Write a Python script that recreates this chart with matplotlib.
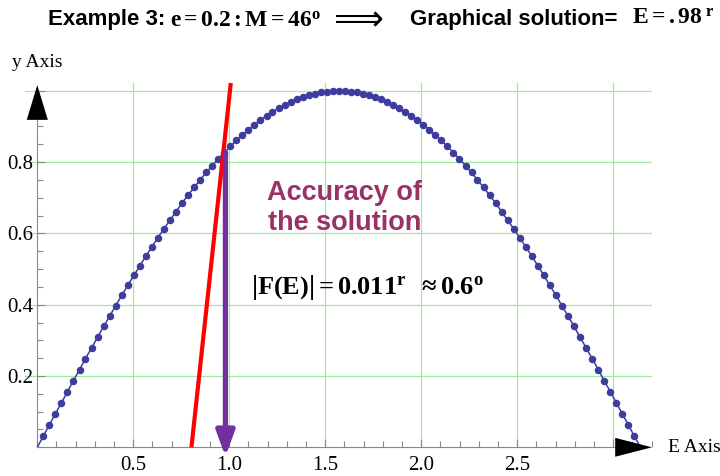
import matplotlib
matplotlib.use("Agg")
import matplotlib.pyplot as plt
from matplotlib.ticker import MultipleLocator, FixedLocator

# curve points E, sin(E)  (dots at every point except the two ends)
E_vals = [0.000, 0.031, 0.063, 0.094, 0.126, 0.157, 0.188, 0.220, 0.251, 0.283,
          0.314, 0.346, 0.377, 0.408, 0.440, 0.471, 0.503, 0.534, 0.565, 0.597,
          0.628, 0.660, 0.691, 0.723, 0.754, 0.785, 0.817, 0.848, 0.880, 0.911,
          0.942, 0.974, 1.005, 1.037, 1.068, 1.100, 1.131, 1.162, 1.194, 1.225,
          1.257, 1.288, 1.319, 1.351, 1.382, 1.414, 1.445, 1.477, 1.508, 1.539,
          1.571, 1.602, 1.634, 1.665, 1.696, 1.728, 1.759, 1.791, 1.822, 1.854,
          1.885, 1.916, 1.948, 1.979, 2.011, 2.042, 2.073, 2.105, 2.136, 2.168,
          2.199, 2.231, 2.262, 2.293, 2.325, 2.356, 2.388, 2.419, 2.450, 2.482,
          2.513, 2.545, 2.576, 2.608, 2.639, 2.670, 2.702, 2.733, 2.765, 2.796,
          2.827, 2.859, 2.890, 2.922, 2.953, 2.985, 3.016, 3.047, 3.079, 3.110,
          3.142]
sinE = [0.000, 0.031, 0.063, 0.094, 0.125, 0.156, 0.187, 0.218, 0.249, 0.279,
        0.309, 0.339, 0.368, 0.397, 0.426, 0.454, 0.482, 0.509, 0.536, 0.562,
        0.588, 0.613, 0.637, 0.661, 0.685, 0.707, 0.729, 0.750, 0.771, 0.790,
        0.809, 0.827, 0.844, 0.861, 0.876, 0.891, 0.905, 0.918, 0.930, 0.941,
        0.951, 0.960, 0.969, 0.976, 0.982, 0.988, 0.992, 0.996, 0.998, 0.999,
        1.000, 0.999, 0.998, 0.996, 0.992, 0.988, 0.982, 0.976, 0.969, 0.960,
        0.951, 0.941, 0.930, 0.918, 0.905, 0.891, 0.876, 0.861, 0.844, 0.827,
        0.809, 0.790, 0.771, 0.750, 0.729, 0.707, 0.685, 0.661, 0.637, 0.613,
        0.588, 0.562, 0.536, 0.509, 0.482, 0.454, 0.426, 0.397, 0.368, 0.339,
        0.309, 0.279, 0.249, 0.218, 0.187, 0.156, 0.125, 0.094, 0.063, 0.031,
        0.000]

# red line  y = (E - M)/e
red_E = [0.803, 1.008]
red_y = [0.0, 1.022]

# graphical solution
sol_E = 0.98
sol_y = 0.828

x_major = [0.5, 1.0, 1.5, 2.0, 2.5, 3.0]
x_labels = ["0.5", "1.0", "1.5", "2.0", "2.5", ""]
y_major = [0.2, 0.4, 0.6, 0.8, 1.0]
y_labels = ["0.2", "0.4", "0.6", "0.8", ""]

plt.rcParams["mathtext.fontset"] = "custom"
plt.rcParams["mathtext.rm"] = "Liberation Serif"
plt.rcParams["mathtext.bf"] = "Liberation Serif:bold"
plt.rcParams["mathtext.it"] = "Liberation Serif:italic"

fig = plt.figure(figsize=(7.2, 4.76), dpi=100)
ax = fig.add_axes([25/720, 28.7/476, 627/720, 364.3/476])
ax.set_xlim(-0.064, 3.202)
ax.set_ylim(0, 1.022)

gridc = "#9BEE9B"
ax.xaxis.set_major_locator(FixedLocator(x_major))
ax.yaxis.set_major_locator(FixedLocator(y_major))
ax.xaxis.set_minor_locator(MultipleLocator(0.1))
ax.yaxis.set_minor_locator(MultipleLocator(0.05))
ax.set_xticklabels(x_labels)
ax.set_yticklabels(y_labels)
ax.grid(True, which="major", color=gridc, lw=0.9)
ax.set_axisbelow(True)

for s in ["top", "right"]:
    ax.spines[s].set_visible(False)
ax.spines["left"].set_position(("data", 0))
ax.spines["left"].set_bounds(0, 0.92)
ax.spines["bottom"].set_bounds(0, 3.01)
for s in ["left", "bottom"]:
    ax.spines[s].set_color("#888888")
    ax.spines[s].set_linewidth(0.8)

ax.tick_params(which="both", direction="in", color="#888888", width=0.8)
ax.tick_params(which="major", length=6)
ax.tick_params(which="minor", length=4)
ax.tick_params(axis="x", pad=6)
ax.tick_params(axis="y", pad=3)
for lab in ax.get_xticklabels() + ax.get_yticklabels():
    lab.set_fontfamily("Liberation Serif")
    lab.set_fontsize(15)

# sin curve with dots
ax.plot(E_vals, sinE, color="#3D3D9E", lw=1.1, marker="o", ms=4.4,
        markevery=slice(1, len(E_vals) - 1), zorder=3)

# straight line
ax.plot(red_E, red_y, color="red", lw=3.0, solid_capstyle="butt", zorder=4, clip_on=False)

# purple arrow down to the solution
ax.annotate("", xy=(sol_E, -0.026), xytext=(sol_E, sol_y),
            arrowprops=dict(arrowstyle="-|>,head_length=1.5,head_width=0.55",
                            mutation_scale=10, color="#7030A0", lw=3.8,
                            shrinkA=0, shrinkB=0),
            annotation_clip=False, zorder=5)

# axis arrow heads
ax.annotate("", xy=(0, 1.016), xytext=(0, 0.5),
            arrowprops=dict(arrowstyle="-|>,head_length=2.5,head_width=0.76",
                            mutation_scale=10, fc="black", ec="black", lw=0,
                            shrinkA=0, shrinkB=0),
            annotation_clip=False, zorder=6)
ax.annotate("", xy=(3.202, 0), xytext=(2.0, 0),
            arrowprops=dict(arrowstyle="-|>,head_length=2.65,head_width=0.68",
                            mutation_scale=10, fc="black", ec="black", lw=0,
                            shrinkA=0, shrinkB=0),
            annotation_clip=False, zorder=6)

# axis names
fig.text(12/720, 1 - 66.7/476, "y Axis", family="Liberation Serif", fontsize=14,
         ha="left", va="baseline")
fig.text(668/720, 1 - 447/476, "E Axis", family="Liberation Serif", fontsize=14,
         ha="left", va="center")

# annotation texts
ax.text(1.60, 0.67, "Accuracy of\nthe solution", color="#993366", fontsize=19.5,
        fontweight="bold", family="Liberation Sans", ha="center", va="center",
        linespacing=1.2)
fig.text(251/720, 1 - 294/476,
         r"$\mathbf{\left|F(E)\right| = 0.011^{r}\ \ \approx 0.6^{o}}$",
         fontsize=19, ha="left", va="baseline")

# title line
ty = 1 - 25/476
fig.text(48/720, ty, "Example 3:", family="Liberation Sans", fontweight="bold",
         fontsize=16, ha="left", va="baseline")
fig.text(170/720, ty - 1.5/476, r"$\mathbf{e = 0.2 : M = 46^{o}}$", fontsize=17,
         ha="left", va="baseline")
fig.text(333/720, 1 - 20/476, "\u27f9", family="DejaVu Sans", fontsize=25,
         ha="left", va="center")
fig.text(410/720, ty, "Graphical solution=", family="Liberation Sans",
         fontweight="bold", fontsize=16, ha="left", va="baseline")
fig.text(632/720, ty + 1/476, r"$\mathbf{E = .98^{\ r}}$", fontsize=17,
         ha="left", va="baseline")

fig.savefig("out.png", dpi=100)
